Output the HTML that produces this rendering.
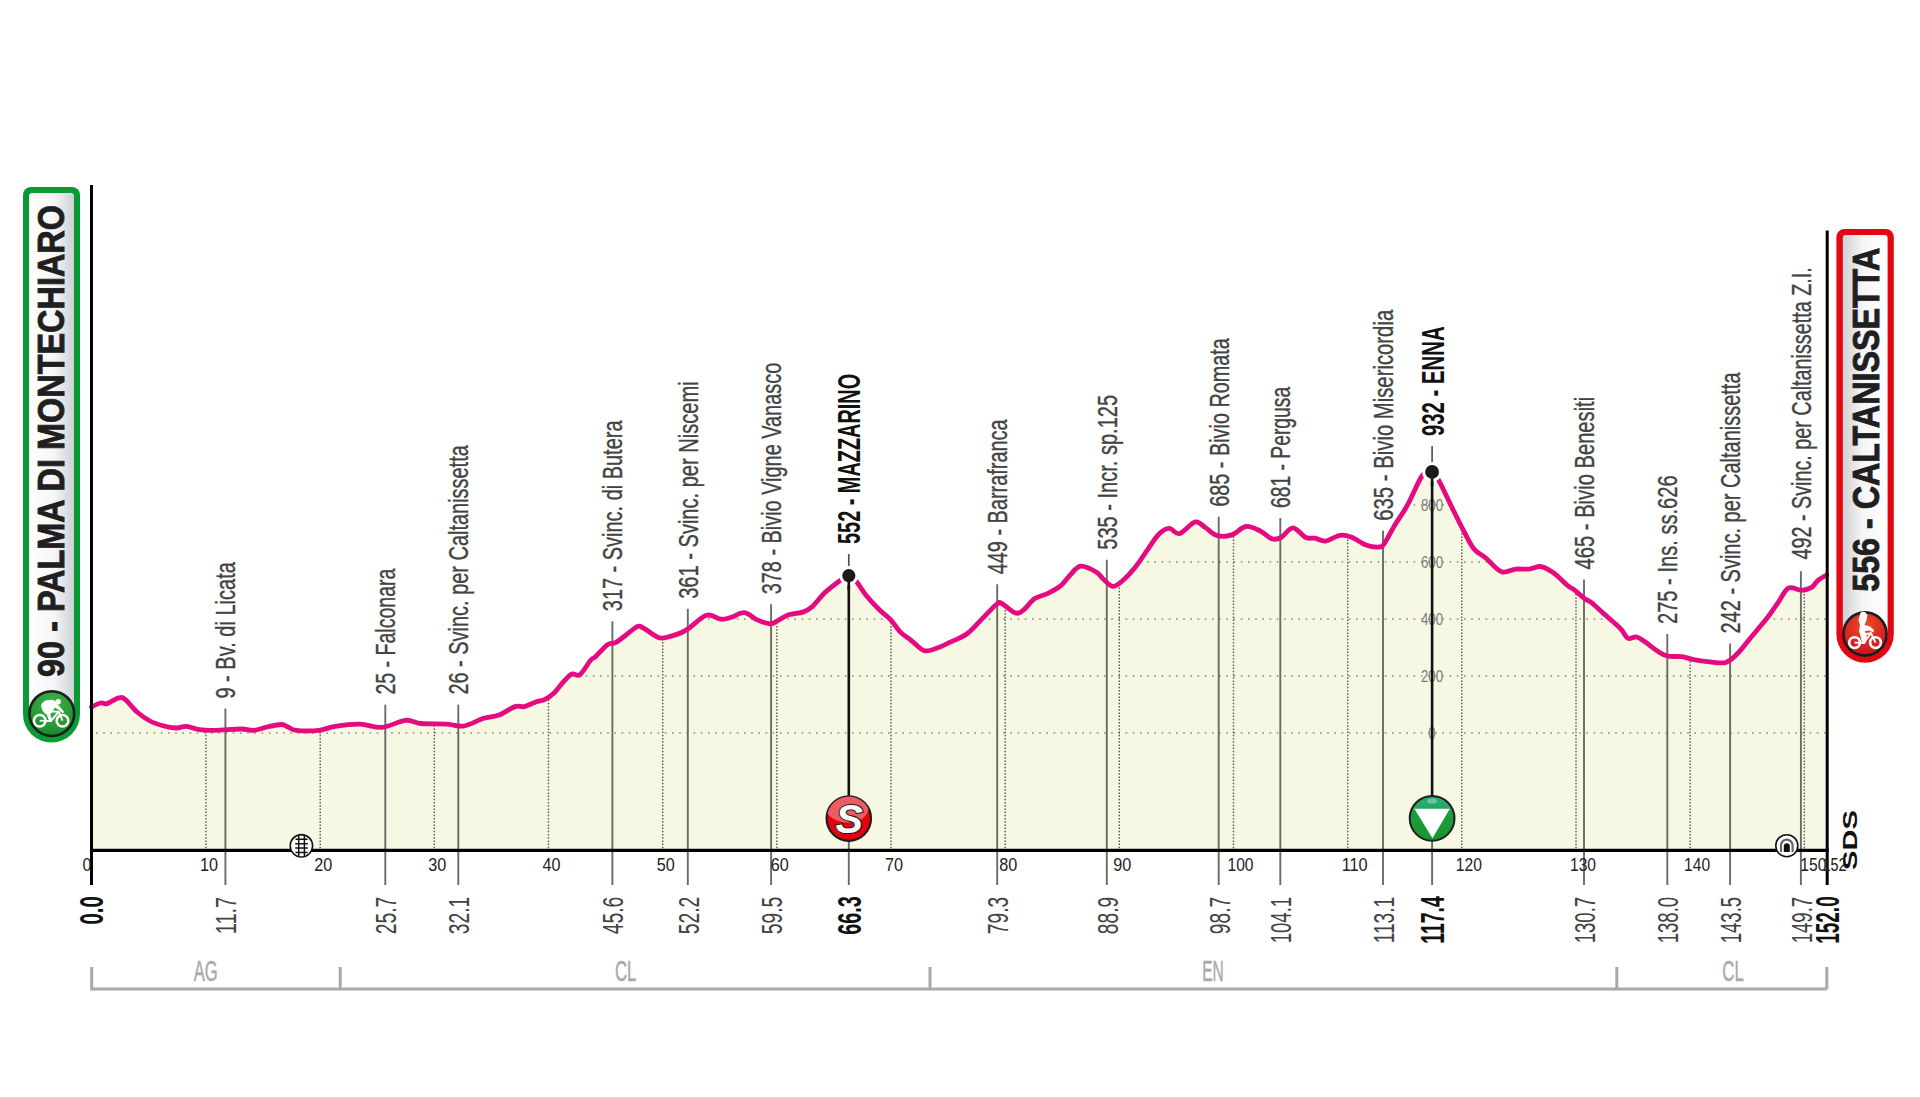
<!DOCTYPE html><html><head><meta charset="utf-8"><title>Stage profile</title><style>html,body{margin:0;padding:0;background:#fff;}svg{display:block;}text{font-family:"Liberation Sans",Arial,sans-serif;}</style></head><body>
<svg width="1920" height="1097" viewBox="0 0 1920 1097">
<defs>
<clipPath id="pc"><path d="M91.5,706.9 C93.0,706.2 98.0,703.5 100.6,703.0 C103.2,702.5 104.0,704.5 107.0,703.6 C110.0,702.7 115.8,698.4 118.9,697.8 C122.0,697.1 122.4,697.3 125.4,699.7 C128.4,702.1 132.9,708.5 137.0,712.0 C141.1,715.5 145.7,718.7 150.0,721.0 C154.3,723.3 158.7,724.6 163.0,725.8 C167.3,727.0 172.1,727.9 176.0,728.0 C179.9,728.1 182.7,726.1 186.6,726.4 C190.5,726.7 194.9,729.1 199.6,729.7 C204.3,730.4 208.1,730.4 215.0,730.3 C221.9,730.2 234.5,729.0 241.0,729.0 C247.5,729.0 249.7,730.6 254.0,730.3 C258.3,730.0 262.4,728.0 267.0,727.0 C271.6,726.0 278.1,724.5 281.6,724.5 C285.1,724.5 285.6,726.0 288.0,727.0 C290.4,728.0 290.8,729.8 296.0,730.3 C301.2,730.8 312.5,730.9 319.0,730.3 C325.5,729.6 328.2,727.4 335.0,726.4 C341.8,725.4 352.2,724.0 360.0,724.2 C367.8,724.4 374.4,728.0 382.0,727.4 C389.6,726.8 399.0,720.9 405.5,720.3 C412.0,719.6 414.1,722.9 421.0,723.5 C427.9,724.1 439.8,723.8 447.0,724.2 C454.2,724.6 457.9,727.0 464.0,726.0 C470.1,725.0 477.8,720.1 483.6,718.3 C489.4,716.5 493.8,717.0 499.0,715.0 C504.2,713.0 510.8,708.0 515.0,706.6 C519.2,705.2 520.5,707.4 524.0,706.6 C527.5,705.8 532.2,703.2 535.7,702.0 C539.2,700.8 542.0,700.9 545.0,699.4 C548.0,697.9 550.8,696.0 554.0,693.0 C557.2,690.0 561.0,684.4 564.0,681.2 C567.0,678.0 569.3,675.1 572.0,674.0 C574.7,672.9 576.9,677.0 580.0,674.7 C583.1,672.4 588.0,663.3 590.6,660.3 C593.2,657.2 593.0,659.0 595.8,656.4 C598.6,653.8 604.3,646.9 607.6,644.6 C610.9,642.3 612.2,644.4 615.4,642.7 C618.6,641.0 623.3,636.9 627.0,634.2 C630.7,631.5 634.7,627.4 637.5,626.4 C640.3,625.4 640.5,626.5 644.0,628.4 C647.5,630.2 654.2,636.1 658.3,637.5 C662.4,638.9 664.2,638.0 668.8,636.8 C673.3,635.6 679.4,633.9 685.7,630.3 C692.0,626.7 700.6,617.1 706.5,615.3 C712.4,613.4 716.7,618.9 720.8,619.2 C724.9,619.5 727.3,618.4 731.2,617.3 C735.2,616.2 740.0,612.3 744.3,612.7 C748.6,613.1 753.0,618.0 757.3,619.9 C761.6,621.8 767.0,623.6 770.3,623.8 C773.5,624.0 773.8,622.7 776.8,621.2 C779.8,619.7 784.1,616.2 788.5,614.7 C792.9,613.2 799.0,613.4 802.9,612.1 C806.8,610.8 808.3,610.1 812.0,606.9 C815.7,603.6 820.4,596.9 825.0,592.6 C829.6,588.3 835.6,583.8 839.5,581.0 C843.4,578.2 845.8,575.7 848.6,575.8 C851.4,575.9 853.7,578.6 856.5,581.7 C859.3,584.9 861.9,590.2 865.6,594.7 C869.3,599.2 874.5,604.9 878.6,609.0 C882.7,613.1 886.6,615.5 890.3,619.4 C894.0,623.3 897.2,628.9 900.7,632.4 C904.2,635.9 907.2,637.2 911.1,640.3 C915.0,643.3 919.9,649.4 924.2,650.7 C928.6,652.0 932.9,649.4 937.2,648.0 C941.5,646.6 945.2,644.6 950.2,642.2 C955.2,639.8 961.7,637.8 967.1,633.8 C972.5,629.7 977.8,623.1 982.8,618.1 C987.8,613.1 993.9,606.2 997.1,603.8 C1000.4,601.4 999.3,602.3 1002.3,603.8 C1005.3,605.3 1011.8,611.8 1015.3,612.9 C1018.8,614.0 1019.9,612.7 1023.1,610.3 C1026.3,607.9 1030.7,601.4 1034.8,598.6 C1038.9,595.8 1043.6,595.6 1047.9,593.4 C1052.2,591.2 1057.2,588.6 1060.9,585.6 C1064.6,582.6 1066.7,578.4 1070.0,575.2 C1073.3,572.0 1076.2,566.7 1080.6,566.2 C1085.0,565.7 1092.3,569.7 1096.2,572.0 C1100.2,574.3 1101.2,577.4 1104.0,579.8 C1106.8,582.2 1109.9,586.4 1113.2,586.4 C1116.5,586.4 1119.7,583.3 1123.6,579.8 C1127.5,576.3 1132.5,570.7 1136.6,565.5 C1140.7,560.3 1144.6,553.8 1148.3,548.6 C1152.0,543.4 1155.3,537.7 1158.8,534.3 C1162.2,530.9 1165.7,528.5 1169.2,528.4 C1172.7,528.3 1175.3,534.7 1179.6,533.6 C1183.9,532.5 1190.9,522.9 1195.2,521.9 C1199.5,520.9 1201.9,525.5 1205.6,527.8 C1209.3,530.1 1212.9,534.4 1217.3,535.6 C1221.7,536.8 1226.9,536.4 1231.7,534.9 C1236.5,533.4 1241.2,527.1 1246.0,526.5 C1250.8,525.9 1256.0,529.0 1260.3,531.0 C1264.6,533.0 1268.5,537.7 1272.0,538.8 C1275.5,539.9 1277.6,539.3 1281.1,537.5 C1284.6,535.7 1288.8,527.8 1292.9,527.8 C1297.0,527.8 1302.2,535.8 1305.9,537.5 C1309.6,539.2 1311.7,537.6 1315.0,538.2 C1318.3,538.8 1321.4,541.6 1325.6,541.1 C1329.8,540.6 1335.7,535.9 1340.0,535.3 C1344.3,534.6 1347.4,535.6 1351.7,537.2 C1356.0,538.8 1361.5,543.4 1366.0,545.0 C1370.5,546.6 1376.0,547.2 1379.0,547.0 C1382.0,546.8 1381.6,547.3 1384.2,543.8 C1386.8,540.2 1390.7,532.0 1394.6,525.5 C1398.5,519.0 1403.1,513.0 1407.7,504.7 C1412.3,496.4 1418.0,481.5 1422.0,476.0 C1426.0,470.5 1429.2,471.1 1432.0,471.9 C1434.8,472.7 1435.8,475.1 1438.9,480.6 C1442.0,486.1 1446.5,496.3 1450.6,504.7 C1454.7,513.0 1459.7,523.3 1463.6,530.7 C1467.5,538.1 1470.3,544.5 1474.0,549.0 C1477.7,553.5 1481.2,554.2 1485.8,558.0 C1490.4,561.8 1496.4,569.9 1501.4,571.7 C1506.4,573.6 1511.1,569.5 1515.7,569.1 C1520.3,568.7 1524.6,569.5 1528.8,569.1 C1532.9,568.7 1536.8,566.2 1540.5,566.5 C1544.2,566.8 1548.0,569.4 1550.9,571.1 C1553.8,572.8 1555.1,574.0 1558.0,576.5 C1560.9,579.0 1565.4,583.7 1568.1,585.9 C1570.8,588.1 1571.3,587.5 1574.0,589.6 C1576.7,591.7 1581.3,596.1 1584.2,598.3 C1587.1,600.5 1588.1,600.0 1591.5,602.7 C1594.9,605.4 1600.5,610.8 1604.6,614.4 C1608.7,618.0 1613.3,621.9 1616.2,624.6 C1619.2,627.3 1620.0,628.1 1622.0,630.4 C1624.0,632.7 1625.5,637.3 1628.0,638.4 C1630.5,639.5 1633.8,636.4 1636.7,637.0 C1639.6,637.6 1642.0,639.8 1645.4,642.1 C1648.8,644.4 1653.3,648.5 1657.0,650.8 C1660.7,653.1 1663.1,655.0 1667.3,656.0 C1671.5,657.0 1677.5,656.1 1681.9,656.7 C1686.3,657.3 1688.9,658.8 1693.5,659.6 C1698.1,660.5 1704.2,661.3 1709.6,661.8 C1714.9,662.3 1721.0,663.8 1725.6,662.5 C1730.2,661.2 1732.9,658.1 1737.3,653.8 C1741.7,649.4 1747.0,642.1 1751.9,636.2 C1756.8,630.4 1762.1,624.3 1766.5,618.8 C1770.9,613.2 1774.5,607.8 1778.1,602.7 C1781.7,597.6 1784.4,590.2 1788.3,588.1 C1792.2,586.0 1797.6,590.4 1801.5,590.3 C1805.4,590.2 1809.0,589.0 1811.7,587.4 C1814.4,585.8 1815.0,582.9 1817.5,580.8 C1820.0,578.7 1825.0,576.0 1826.5,575.0 L1826.5,850 L91.5,850 Z"/></clipPath>
<linearGradient id="gbox" x1="0" y1="0" x2="1" y2="0"><stop offset="0" stop-color="#ffffff"/><stop offset="0.55" stop-color="#f6f6f7"/><stop offset="1" stop-color="#cfd0d4"/></linearGradient>
<linearGradient id="rbox" x1="0" y1="0" x2="1" y2="0"><stop offset="0" stop-color="#cfd0d4"/><stop offset="0.45" stop-color="#f6f6f7"/><stop offset="1" stop-color="#ffffff"/></linearGradient>
<radialGradient id="ggreen" cx="0.5" cy="0.3" r="0.7"><stop offset="0" stop-color="#3fb54a"/><stop offset="1" stop-color="#1a8a2c"/></radialGradient>
<radialGradient id="gred" cx="0.5" cy="0.3" r="0.7"><stop offset="0" stop-color="#f0502a"/><stop offset="1" stop-color="#c8101e"/></radialGradient>
<linearGradient id="sred" x1="0" y1="0" x2="0" y2="1"><stop offset="0" stop-color="#ee5a62"/><stop offset="0.45" stop-color="#e2141e"/><stop offset="1" stop-color="#d80c16"/></linearGradient>
<linearGradient id="gpm" x1="0" y1="0" x2="0" y2="1"><stop offset="0" stop-color="#2fae74"/><stop offset="0.3" stop-color="#24a563"/><stop offset="0.32" stop-color="#1c9e3a"/><stop offset="1" stop-color="#169632"/></linearGradient>
</defs>
<path d="M91.5,706.9 C93.0,706.2 98.0,703.5 100.6,703.0 C103.2,702.5 104.0,704.5 107.0,703.6 C110.0,702.7 115.8,698.4 118.9,697.8 C122.0,697.1 122.4,697.3 125.4,699.7 C128.4,702.1 132.9,708.5 137.0,712.0 C141.1,715.5 145.7,718.7 150.0,721.0 C154.3,723.3 158.7,724.6 163.0,725.8 C167.3,727.0 172.1,727.9 176.0,728.0 C179.9,728.1 182.7,726.1 186.6,726.4 C190.5,726.7 194.9,729.1 199.6,729.7 C204.3,730.4 208.1,730.4 215.0,730.3 C221.9,730.2 234.5,729.0 241.0,729.0 C247.5,729.0 249.7,730.6 254.0,730.3 C258.3,730.0 262.4,728.0 267.0,727.0 C271.6,726.0 278.1,724.5 281.6,724.5 C285.1,724.5 285.6,726.0 288.0,727.0 C290.4,728.0 290.8,729.8 296.0,730.3 C301.2,730.8 312.5,730.9 319.0,730.3 C325.5,729.6 328.2,727.4 335.0,726.4 C341.8,725.4 352.2,724.0 360.0,724.2 C367.8,724.4 374.4,728.0 382.0,727.4 C389.6,726.8 399.0,720.9 405.5,720.3 C412.0,719.6 414.1,722.9 421.0,723.5 C427.9,724.1 439.8,723.8 447.0,724.2 C454.2,724.6 457.9,727.0 464.0,726.0 C470.1,725.0 477.8,720.1 483.6,718.3 C489.4,716.5 493.8,717.0 499.0,715.0 C504.2,713.0 510.8,708.0 515.0,706.6 C519.2,705.2 520.5,707.4 524.0,706.6 C527.5,705.8 532.2,703.2 535.7,702.0 C539.2,700.8 542.0,700.9 545.0,699.4 C548.0,697.9 550.8,696.0 554.0,693.0 C557.2,690.0 561.0,684.4 564.0,681.2 C567.0,678.0 569.3,675.1 572.0,674.0 C574.7,672.9 576.9,677.0 580.0,674.7 C583.1,672.4 588.0,663.3 590.6,660.3 C593.2,657.2 593.0,659.0 595.8,656.4 C598.6,653.8 604.3,646.9 607.6,644.6 C610.9,642.3 612.2,644.4 615.4,642.7 C618.6,641.0 623.3,636.9 627.0,634.2 C630.7,631.5 634.7,627.4 637.5,626.4 C640.3,625.4 640.5,626.5 644.0,628.4 C647.5,630.2 654.2,636.1 658.3,637.5 C662.4,638.9 664.2,638.0 668.8,636.8 C673.3,635.6 679.4,633.9 685.7,630.3 C692.0,626.7 700.6,617.1 706.5,615.3 C712.4,613.4 716.7,618.9 720.8,619.2 C724.9,619.5 727.3,618.4 731.2,617.3 C735.2,616.2 740.0,612.3 744.3,612.7 C748.6,613.1 753.0,618.0 757.3,619.9 C761.6,621.8 767.0,623.6 770.3,623.8 C773.5,624.0 773.8,622.7 776.8,621.2 C779.8,619.7 784.1,616.2 788.5,614.7 C792.9,613.2 799.0,613.4 802.9,612.1 C806.8,610.8 808.3,610.1 812.0,606.9 C815.7,603.6 820.4,596.9 825.0,592.6 C829.6,588.3 835.6,583.8 839.5,581.0 C843.4,578.2 845.8,575.7 848.6,575.8 C851.4,575.9 853.7,578.6 856.5,581.7 C859.3,584.9 861.9,590.2 865.6,594.7 C869.3,599.2 874.5,604.9 878.6,609.0 C882.7,613.1 886.6,615.5 890.3,619.4 C894.0,623.3 897.2,628.9 900.7,632.4 C904.2,635.9 907.2,637.2 911.1,640.3 C915.0,643.3 919.9,649.4 924.2,650.7 C928.6,652.0 932.9,649.4 937.2,648.0 C941.5,646.6 945.2,644.6 950.2,642.2 C955.2,639.8 961.7,637.8 967.1,633.8 C972.5,629.7 977.8,623.1 982.8,618.1 C987.8,613.1 993.9,606.2 997.1,603.8 C1000.4,601.4 999.3,602.3 1002.3,603.8 C1005.3,605.3 1011.8,611.8 1015.3,612.9 C1018.8,614.0 1019.9,612.7 1023.1,610.3 C1026.3,607.9 1030.7,601.4 1034.8,598.6 C1038.9,595.8 1043.6,595.6 1047.9,593.4 C1052.2,591.2 1057.2,588.6 1060.9,585.6 C1064.6,582.6 1066.7,578.4 1070.0,575.2 C1073.3,572.0 1076.2,566.7 1080.6,566.2 C1085.0,565.7 1092.3,569.7 1096.2,572.0 C1100.2,574.3 1101.2,577.4 1104.0,579.8 C1106.8,582.2 1109.9,586.4 1113.2,586.4 C1116.5,586.4 1119.7,583.3 1123.6,579.8 C1127.5,576.3 1132.5,570.7 1136.6,565.5 C1140.7,560.3 1144.6,553.8 1148.3,548.6 C1152.0,543.4 1155.3,537.7 1158.8,534.3 C1162.2,530.9 1165.7,528.5 1169.2,528.4 C1172.7,528.3 1175.3,534.7 1179.6,533.6 C1183.9,532.5 1190.9,522.9 1195.2,521.9 C1199.5,520.9 1201.9,525.5 1205.6,527.8 C1209.3,530.1 1212.9,534.4 1217.3,535.6 C1221.7,536.8 1226.9,536.4 1231.7,534.9 C1236.5,533.4 1241.2,527.1 1246.0,526.5 C1250.8,525.9 1256.0,529.0 1260.3,531.0 C1264.6,533.0 1268.5,537.7 1272.0,538.8 C1275.5,539.9 1277.6,539.3 1281.1,537.5 C1284.6,535.7 1288.8,527.8 1292.9,527.8 C1297.0,527.8 1302.2,535.8 1305.9,537.5 C1309.6,539.2 1311.7,537.6 1315.0,538.2 C1318.3,538.8 1321.4,541.6 1325.6,541.1 C1329.8,540.6 1335.7,535.9 1340.0,535.3 C1344.3,534.6 1347.4,535.6 1351.7,537.2 C1356.0,538.8 1361.5,543.4 1366.0,545.0 C1370.5,546.6 1376.0,547.2 1379.0,547.0 C1382.0,546.8 1381.6,547.3 1384.2,543.8 C1386.8,540.2 1390.7,532.0 1394.6,525.5 C1398.5,519.0 1403.1,513.0 1407.7,504.7 C1412.3,496.4 1418.0,481.5 1422.0,476.0 C1426.0,470.5 1429.2,471.1 1432.0,471.9 C1434.8,472.7 1435.8,475.1 1438.9,480.6 C1442.0,486.1 1446.5,496.3 1450.6,504.7 C1454.7,513.0 1459.7,523.3 1463.6,530.7 C1467.5,538.1 1470.3,544.5 1474.0,549.0 C1477.7,553.5 1481.2,554.2 1485.8,558.0 C1490.4,561.8 1496.4,569.9 1501.4,571.7 C1506.4,573.6 1511.1,569.5 1515.7,569.1 C1520.3,568.7 1524.6,569.5 1528.8,569.1 C1532.9,568.7 1536.8,566.2 1540.5,566.5 C1544.2,566.8 1548.0,569.4 1550.9,571.1 C1553.8,572.8 1555.1,574.0 1558.0,576.5 C1560.9,579.0 1565.4,583.7 1568.1,585.9 C1570.8,588.1 1571.3,587.5 1574.0,589.6 C1576.7,591.7 1581.3,596.1 1584.2,598.3 C1587.1,600.5 1588.1,600.0 1591.5,602.7 C1594.9,605.4 1600.5,610.8 1604.6,614.4 C1608.7,618.0 1613.3,621.9 1616.2,624.6 C1619.2,627.3 1620.0,628.1 1622.0,630.4 C1624.0,632.7 1625.5,637.3 1628.0,638.4 C1630.5,639.5 1633.8,636.4 1636.7,637.0 C1639.6,637.6 1642.0,639.8 1645.4,642.1 C1648.8,644.4 1653.3,648.5 1657.0,650.8 C1660.7,653.1 1663.1,655.0 1667.3,656.0 C1671.5,657.0 1677.5,656.1 1681.9,656.7 C1686.3,657.3 1688.9,658.8 1693.5,659.6 C1698.1,660.5 1704.2,661.3 1709.6,661.8 C1714.9,662.3 1721.0,663.8 1725.6,662.5 C1730.2,661.2 1732.9,658.1 1737.3,653.8 C1741.7,649.4 1747.0,642.1 1751.9,636.2 C1756.8,630.4 1762.1,624.3 1766.5,618.8 C1770.9,613.2 1774.5,607.8 1778.1,602.7 C1781.7,597.6 1784.4,590.2 1788.3,588.1 C1792.2,586.0 1797.6,590.4 1801.5,590.3 C1805.4,590.2 1809.0,589.0 1811.7,587.4 C1814.4,585.8 1815.0,582.9 1817.5,580.8 C1820.0,578.7 1825.0,576.0 1826.5,575.0 L1826.5,850 L91.5,850 Z" fill="#f7f8e4"/>
<g clip-path="url(#pc)">
<line x1="96" y1="733.0" x2="1826" y2="733.0" stroke="#a5a59a" stroke-width="2" stroke-dasharray="1.6 5.6"/>
<line x1="96" y1="676.0" x2="1826" y2="676.0" stroke="#a5a59a" stroke-width="2" stroke-dasharray="1.6 5.6"/>
<line x1="96" y1="619.0" x2="1826" y2="619.0" stroke="#a5a59a" stroke-width="2" stroke-dasharray="1.6 5.6"/>
<line x1="96" y1="562.0" x2="1826" y2="562.0" stroke="#a5a59a" stroke-width="2" stroke-dasharray="1.6 5.6"/>
<line x1="96" y1="505.0" x2="1826" y2="505.0" stroke="#a5a59a" stroke-width="2" stroke-dasharray="1.6 5.6"/>
<line x1="206.0" y1="450" x2="206.0" y2="849" stroke="#55554f" stroke-width="1.4" stroke-dasharray="1.5 1.7"/>
<line x1="320.2" y1="450" x2="320.2" y2="849" stroke="#55554f" stroke-width="1.4" stroke-dasharray="1.5 1.7"/>
<line x1="434.3" y1="450" x2="434.3" y2="849" stroke="#55554f" stroke-width="1.4" stroke-dasharray="1.5 1.7"/>
<line x1="548.5" y1="450" x2="548.5" y2="849" stroke="#55554f" stroke-width="1.4" stroke-dasharray="1.5 1.7"/>
<line x1="662.7" y1="450" x2="662.7" y2="849" stroke="#55554f" stroke-width="1.4" stroke-dasharray="1.5 1.7"/>
<line x1="776.8" y1="450" x2="776.8" y2="849" stroke="#55554f" stroke-width="1.4" stroke-dasharray="1.5 1.7"/>
<line x1="891.0" y1="450" x2="891.0" y2="849" stroke="#55554f" stroke-width="1.4" stroke-dasharray="1.5 1.7"/>
<line x1="1005.2" y1="450" x2="1005.2" y2="849" stroke="#55554f" stroke-width="1.4" stroke-dasharray="1.5 1.7"/>
<line x1="1119.3" y1="450" x2="1119.3" y2="849" stroke="#55554f" stroke-width="1.4" stroke-dasharray="1.5 1.7"/>
<line x1="1233.5" y1="450" x2="1233.5" y2="849" stroke="#55554f" stroke-width="1.4" stroke-dasharray="1.5 1.7"/>
<line x1="1347.7" y1="450" x2="1347.7" y2="849" stroke="#55554f" stroke-width="1.4" stroke-dasharray="1.5 1.7"/>
<line x1="1461.8" y1="450" x2="1461.8" y2="849" stroke="#55554f" stroke-width="1.4" stroke-dasharray="1.5 1.7"/>
<line x1="1576.0" y1="450" x2="1576.0" y2="849" stroke="#55554f" stroke-width="1.4" stroke-dasharray="1.5 1.7"/>
<line x1="1690.1" y1="450" x2="1690.1" y2="849" stroke="#55554f" stroke-width="1.4" stroke-dasharray="1.5 1.7"/>
<line x1="1804.3" y1="450" x2="1804.3" y2="849" stroke="#55554f" stroke-width="1.4" stroke-dasharray="1.5 1.7"/>
</g>
<text x="1432" y="739.0" font-size="17" fill="#7b7b7b" text-anchor="middle" transform="translate(1432 0) scale(0.78 1) translate(-1432 0)">0</text>
<text x="1432" y="682.0" font-size="17" fill="#7b7b7b" text-anchor="middle" transform="translate(1432 0) scale(0.78 1) translate(-1432 0)">200</text>
<text x="1432" y="625.0" font-size="17" fill="#7b7b7b" text-anchor="middle" transform="translate(1432 0) scale(0.78 1) translate(-1432 0)">400</text>
<text x="1432" y="568.0" font-size="17" fill="#7b7b7b" text-anchor="middle" transform="translate(1432 0) scale(0.78 1) translate(-1432 0)">600</text>
<text x="1432" y="511.0" font-size="17" fill="#7b7b7b" text-anchor="middle" transform="translate(1432 0) scale(0.78 1) translate(-1432 0)">800</text>
<line x1="225.4" y1="708.6" x2="225.4" y2="885" stroke="#6a6a66" stroke-width="1.9"/>
<line x1="385.3" y1="704.6" x2="385.3" y2="885" stroke="#6a6a66" stroke-width="1.9"/>
<line x1="458.3" y1="704.6" x2="458.3" y2="885" stroke="#6a6a66" stroke-width="1.9"/>
<line x1="612.4" y1="621.2" x2="612.4" y2="885" stroke="#6a6a66" stroke-width="1.9"/>
<line x1="687.8" y1="608.8" x2="687.8" y2="885" stroke="#6a6a66" stroke-width="1.9"/>
<line x1="771.1" y1="604.3" x2="771.1" y2="885" stroke="#6a6a66" stroke-width="1.9"/>
<line x1="997.2" y1="584.3" x2="997.2" y2="885" stroke="#6a6a66" stroke-width="1.9"/>
<line x1="1106.8" y1="559.7" x2="1106.8" y2="885" stroke="#6a6a66" stroke-width="1.9"/>
<line x1="1218.7" y1="516.7" x2="1218.7" y2="885" stroke="#6a6a66" stroke-width="1.9"/>
<line x1="1280.3" y1="518.0" x2="1280.3" y2="885" stroke="#6a6a66" stroke-width="1.9"/>
<line x1="1383.0" y1="530.7" x2="1383.0" y2="885" stroke="#6a6a66" stroke-width="1.9"/>
<line x1="1584.0" y1="579.4" x2="1584.0" y2="885" stroke="#6a6a66" stroke-width="1.9"/>
<line x1="1667.3" y1="634.0" x2="1667.3" y2="885" stroke="#6a6a66" stroke-width="1.9"/>
<line x1="1730.1" y1="643.5" x2="1730.1" y2="885" stroke="#6a6a66" stroke-width="1.9"/>
<line x1="1800.9" y1="571.3" x2="1800.9" y2="885" stroke="#6a6a66" stroke-width="1.9"/>
<line x1="848.8" y1="554.0" x2="848.8" y2="566.3" stroke="#555" stroke-width="1.7"/>
<line x1="848.8" y1="575.8" x2="848.8" y2="805" stroke="#111" stroke-width="2.6"/>
<line x1="848.8" y1="830" x2="848.8" y2="885" stroke="#6a6a66" stroke-width="1.9"/>
<line x1="1432.1" y1="446.0" x2="1432.1" y2="462.4" stroke="#555" stroke-width="1.7"/>
<line x1="1432.1" y1="471.9" x2="1432.1" y2="805" stroke="#111" stroke-width="2.6"/>
<line x1="1432.1" y1="830" x2="1432.1" y2="885" stroke="#6a6a66" stroke-width="1.9"/>
<path d="M91.5,706.9 C93.0,706.2 98.0,703.5 100.6,703.0 C103.2,702.5 104.0,704.5 107.0,703.6 C110.0,702.7 115.8,698.4 118.9,697.8 C122.0,697.1 122.4,697.3 125.4,699.7 C128.4,702.1 132.9,708.5 137.0,712.0 C141.1,715.5 145.7,718.7 150.0,721.0 C154.3,723.3 158.7,724.6 163.0,725.8 C167.3,727.0 172.1,727.9 176.0,728.0 C179.9,728.1 182.7,726.1 186.6,726.4 C190.5,726.7 194.9,729.1 199.6,729.7 C204.3,730.4 208.1,730.4 215.0,730.3 C221.9,730.2 234.5,729.0 241.0,729.0 C247.5,729.0 249.7,730.6 254.0,730.3 C258.3,730.0 262.4,728.0 267.0,727.0 C271.6,726.0 278.1,724.5 281.6,724.5 C285.1,724.5 285.6,726.0 288.0,727.0 C290.4,728.0 290.8,729.8 296.0,730.3 C301.2,730.8 312.5,730.9 319.0,730.3 C325.5,729.6 328.2,727.4 335.0,726.4 C341.8,725.4 352.2,724.0 360.0,724.2 C367.8,724.4 374.4,728.0 382.0,727.4 C389.6,726.8 399.0,720.9 405.5,720.3 C412.0,719.6 414.1,722.9 421.0,723.5 C427.9,724.1 439.8,723.8 447.0,724.2 C454.2,724.6 457.9,727.0 464.0,726.0 C470.1,725.0 477.8,720.1 483.6,718.3 C489.4,716.5 493.8,717.0 499.0,715.0 C504.2,713.0 510.8,708.0 515.0,706.6 C519.2,705.2 520.5,707.4 524.0,706.6 C527.5,705.8 532.2,703.2 535.7,702.0 C539.2,700.8 542.0,700.9 545.0,699.4 C548.0,697.9 550.8,696.0 554.0,693.0 C557.2,690.0 561.0,684.4 564.0,681.2 C567.0,678.0 569.3,675.1 572.0,674.0 C574.7,672.9 576.9,677.0 580.0,674.7 C583.1,672.4 588.0,663.3 590.6,660.3 C593.2,657.2 593.0,659.0 595.8,656.4 C598.6,653.8 604.3,646.9 607.6,644.6 C610.9,642.3 612.2,644.4 615.4,642.7 C618.6,641.0 623.3,636.9 627.0,634.2 C630.7,631.5 634.7,627.4 637.5,626.4 C640.3,625.4 640.5,626.5 644.0,628.4 C647.5,630.2 654.2,636.1 658.3,637.5 C662.4,638.9 664.2,638.0 668.8,636.8 C673.3,635.6 679.4,633.9 685.7,630.3 C692.0,626.7 700.6,617.1 706.5,615.3 C712.4,613.4 716.7,618.9 720.8,619.2 C724.9,619.5 727.3,618.4 731.2,617.3 C735.2,616.2 740.0,612.3 744.3,612.7 C748.6,613.1 753.0,618.0 757.3,619.9 C761.6,621.8 767.0,623.6 770.3,623.8 C773.5,624.0 773.8,622.7 776.8,621.2 C779.8,619.7 784.1,616.2 788.5,614.7 C792.9,613.2 799.0,613.4 802.9,612.1 C806.8,610.8 808.3,610.1 812.0,606.9 C815.7,603.6 820.4,596.9 825.0,592.6 C829.6,588.3 835.6,583.8 839.5,581.0 C843.4,578.2 845.8,575.7 848.6,575.8 C851.4,575.9 853.7,578.6 856.5,581.7 C859.3,584.9 861.9,590.2 865.6,594.7 C869.3,599.2 874.5,604.9 878.6,609.0 C882.7,613.1 886.6,615.5 890.3,619.4 C894.0,623.3 897.2,628.9 900.7,632.4 C904.2,635.9 907.2,637.2 911.1,640.3 C915.0,643.3 919.9,649.4 924.2,650.7 C928.6,652.0 932.9,649.4 937.2,648.0 C941.5,646.6 945.2,644.6 950.2,642.2 C955.2,639.8 961.7,637.8 967.1,633.8 C972.5,629.7 977.8,623.1 982.8,618.1 C987.8,613.1 993.9,606.2 997.1,603.8 C1000.4,601.4 999.3,602.3 1002.3,603.8 C1005.3,605.3 1011.8,611.8 1015.3,612.9 C1018.8,614.0 1019.9,612.7 1023.1,610.3 C1026.3,607.9 1030.7,601.4 1034.8,598.6 C1038.9,595.8 1043.6,595.6 1047.9,593.4 C1052.2,591.2 1057.2,588.6 1060.9,585.6 C1064.6,582.6 1066.7,578.4 1070.0,575.2 C1073.3,572.0 1076.2,566.7 1080.6,566.2 C1085.0,565.7 1092.3,569.7 1096.2,572.0 C1100.2,574.3 1101.2,577.4 1104.0,579.8 C1106.8,582.2 1109.9,586.4 1113.2,586.4 C1116.5,586.4 1119.7,583.3 1123.6,579.8 C1127.5,576.3 1132.5,570.7 1136.6,565.5 C1140.7,560.3 1144.6,553.8 1148.3,548.6 C1152.0,543.4 1155.3,537.7 1158.8,534.3 C1162.2,530.9 1165.7,528.5 1169.2,528.4 C1172.7,528.3 1175.3,534.7 1179.6,533.6 C1183.9,532.5 1190.9,522.9 1195.2,521.9 C1199.5,520.9 1201.9,525.5 1205.6,527.8 C1209.3,530.1 1212.9,534.4 1217.3,535.6 C1221.7,536.8 1226.9,536.4 1231.7,534.9 C1236.5,533.4 1241.2,527.1 1246.0,526.5 C1250.8,525.9 1256.0,529.0 1260.3,531.0 C1264.6,533.0 1268.5,537.7 1272.0,538.8 C1275.5,539.9 1277.6,539.3 1281.1,537.5 C1284.6,535.7 1288.8,527.8 1292.9,527.8 C1297.0,527.8 1302.2,535.8 1305.9,537.5 C1309.6,539.2 1311.7,537.6 1315.0,538.2 C1318.3,538.8 1321.4,541.6 1325.6,541.1 C1329.8,540.6 1335.7,535.9 1340.0,535.3 C1344.3,534.6 1347.4,535.6 1351.7,537.2 C1356.0,538.8 1361.5,543.4 1366.0,545.0 C1370.5,546.6 1376.0,547.2 1379.0,547.0 C1382.0,546.8 1381.6,547.3 1384.2,543.8 C1386.8,540.2 1390.7,532.0 1394.6,525.5 C1398.5,519.0 1403.1,513.0 1407.7,504.7 C1412.3,496.4 1418.0,481.5 1422.0,476.0 C1426.0,470.5 1429.2,471.1 1432.0,471.9 C1434.8,472.7 1435.8,475.1 1438.9,480.6 C1442.0,486.1 1446.5,496.3 1450.6,504.7 C1454.7,513.0 1459.7,523.3 1463.6,530.7 C1467.5,538.1 1470.3,544.5 1474.0,549.0 C1477.7,553.5 1481.2,554.2 1485.8,558.0 C1490.4,561.8 1496.4,569.9 1501.4,571.7 C1506.4,573.6 1511.1,569.5 1515.7,569.1 C1520.3,568.7 1524.6,569.5 1528.8,569.1 C1532.9,568.7 1536.8,566.2 1540.5,566.5 C1544.2,566.8 1548.0,569.4 1550.9,571.1 C1553.8,572.8 1555.1,574.0 1558.0,576.5 C1560.9,579.0 1565.4,583.7 1568.1,585.9 C1570.8,588.1 1571.3,587.5 1574.0,589.6 C1576.7,591.7 1581.3,596.1 1584.2,598.3 C1587.1,600.5 1588.1,600.0 1591.5,602.7 C1594.9,605.4 1600.5,610.8 1604.6,614.4 C1608.7,618.0 1613.3,621.9 1616.2,624.6 C1619.2,627.3 1620.0,628.1 1622.0,630.4 C1624.0,632.7 1625.5,637.3 1628.0,638.4 C1630.5,639.5 1633.8,636.4 1636.7,637.0 C1639.6,637.6 1642.0,639.8 1645.4,642.1 C1648.8,644.4 1653.3,648.5 1657.0,650.8 C1660.7,653.1 1663.1,655.0 1667.3,656.0 C1671.5,657.0 1677.5,656.1 1681.9,656.7 C1686.3,657.3 1688.9,658.8 1693.5,659.6 C1698.1,660.5 1704.2,661.3 1709.6,661.8 C1714.9,662.3 1721.0,663.8 1725.6,662.5 C1730.2,661.2 1732.9,658.1 1737.3,653.8 C1741.7,649.4 1747.0,642.1 1751.9,636.2 C1756.8,630.4 1762.1,624.3 1766.5,618.8 C1770.9,613.2 1774.5,607.8 1778.1,602.7 C1781.7,597.6 1784.4,590.2 1788.3,588.1 C1792.2,586.0 1797.6,590.4 1801.5,590.3 C1805.4,590.2 1809.0,589.0 1811.7,587.4 C1814.4,585.8 1815.0,582.9 1817.5,580.8 C1820.0,578.7 1825.0,576.0 1826.5,575.0" fill="none" stroke="#e60a80" stroke-width="4.8" stroke-linejoin="round" stroke-linecap="round"/>
<circle cx="848.8" cy="575.6" r="9.6" fill="#fff"/>
<line x1="848.8" y1="576" x2="848.8" y2="590" stroke="#111" stroke-width="2.6"/>
<circle cx="848.8" cy="575.6" r="6.6" fill="#1b1b1b"/>
<circle cx="1432.1" cy="471.9" r="10" fill="#fff"/>
<line x1="1432.1" y1="472" x2="1432.1" y2="486" stroke="#111" stroke-width="2.6"/>
<circle cx="1432.1" cy="471.9" r="6.9" fill="#1b1b1b"/>
<line x1="91.5" y1="185" x2="91.5" y2="885" stroke="#000" stroke-width="3"/>
<line x1="1827.2" y1="230.5" x2="1827.2" y2="885" stroke="#000" stroke-width="3"/>
<line x1="90" y1="850.3" x2="1828.7" y2="850.3" stroke="#000" stroke-width="3.2"/>
<text transform="translate(235.4 698.6) rotate(-90)" font-size="28" fill="#434343" stroke="#434343" stroke-width="0.35" textLength="136.5" lengthAdjust="spacingAndGlyphs">9 - Bv. di Licata</text>
<text transform="translate(395.3 694.6) rotate(-90)" font-size="28" fill="#434343" stroke="#434343" stroke-width="0.35" textLength="126.0" lengthAdjust="spacingAndGlyphs">25 - Falconara</text>
<text transform="translate(468.3 694.6) rotate(-90)" font-size="28" fill="#434343" stroke="#434343" stroke-width="0.35" textLength="249.4" lengthAdjust="spacingAndGlyphs">26 - Svinc. per Caltanissetta</text>
<text transform="translate(622.4 611.2) rotate(-90)" font-size="28" fill="#434343" stroke="#434343" stroke-width="0.35" textLength="190.7" lengthAdjust="spacingAndGlyphs">317 - Svinc. di Butera</text>
<text transform="translate(697.8 598.8) rotate(-90)" font-size="28" fill="#434343" stroke="#434343" stroke-width="0.35" textLength="217.4" lengthAdjust="spacingAndGlyphs">361 - Svinc. per Niscemi</text>
<text transform="translate(781.1 594.3) rotate(-90)" font-size="28" fill="#434343" stroke="#434343" stroke-width="0.35" textLength="231.5" lengthAdjust="spacingAndGlyphs">378 - Bivio Vigne Vanasco</text>
<text transform="translate(860.3 544.0) rotate(-90)" font-size="30.5" font-weight="bold" fill="#111" textLength="170.2" lengthAdjust="spacingAndGlyphs">552 - MAZZARINO</text>
<text transform="translate(1007.2 574.3) rotate(-90)" font-size="28" fill="#434343" stroke="#434343" stroke-width="0.35" textLength="154.9" lengthAdjust="spacingAndGlyphs">449 - Barrafranca</text>
<text transform="translate(1116.8 549.7) rotate(-90)" font-size="28" fill="#434343" stroke="#434343" stroke-width="0.35" textLength="154.8" lengthAdjust="spacingAndGlyphs">535 - Incr. sp.125</text>
<text transform="translate(1228.7 506.7) rotate(-90)" font-size="28" fill="#434343" stroke="#434343" stroke-width="0.35" textLength="168.5" lengthAdjust="spacingAndGlyphs">685 - Bivio Romata</text>
<text transform="translate(1290.3 508.0) rotate(-90)" font-size="28" fill="#434343" stroke="#434343" stroke-width="0.35" textLength="121.1" lengthAdjust="spacingAndGlyphs">681 - Pergusa</text>
<text transform="translate(1393.0 520.7) rotate(-90)" font-size="28" fill="#434343" stroke="#434343" stroke-width="0.35" textLength="210.9" lengthAdjust="spacingAndGlyphs">635 - Bivio Misericordia</text>
<text transform="translate(1443.6 436.0) rotate(-90)" font-size="30.5" font-weight="bold" fill="#111" textLength="109.6" lengthAdjust="spacingAndGlyphs">932 - ENNA</text>
<text transform="translate(1594.0 569.4) rotate(-90)" font-size="28" fill="#434343" stroke="#434343" stroke-width="0.35" textLength="172.6" lengthAdjust="spacingAndGlyphs">465 - Bivio Benesiti</text>
<text transform="translate(1677.3 624.0) rotate(-90)" font-size="28" fill="#434343" stroke="#434343" stroke-width="0.35" textLength="148.6" lengthAdjust="spacingAndGlyphs">275 - Ins. ss.626</text>
<text transform="translate(1740.1 633.5) rotate(-90)" font-size="28" fill="#434343" stroke="#434343" stroke-width="0.35" textLength="261.0" lengthAdjust="spacingAndGlyphs">242 - Svinc. per Caltanissetta</text>
<text transform="translate(1810.9 559.6) rotate(-90)" font-size="28" fill="#434343" stroke="#434343" stroke-width="0.35" textLength="292.3" lengthAdjust="spacingAndGlyphs">492 - Svinc. per Caltanissetta Z.I.</text>
<text transform="translate(103.1 896.3) rotate(-90)" font-size="32.5" font-weight="bold" fill="#111" text-anchor="end" textLength="28.3" lengthAdjust="spacingAndGlyphs">0.0</text>
<text transform="translate(236.4 896.8) rotate(-90)" font-size="30" fill="#434343" text-anchor="end" textLength="37.4" lengthAdjust="spacingAndGlyphs">11.7</text>
<text transform="translate(396.3 896.8) rotate(-90)" font-size="30" fill="#434343" text-anchor="end" textLength="37.4" lengthAdjust="spacingAndGlyphs">25.7</text>
<text transform="translate(469.3 896.8) rotate(-90)" font-size="30" fill="#434343" text-anchor="end" textLength="37.4" lengthAdjust="spacingAndGlyphs">32.1</text>
<text transform="translate(623.4 896.8) rotate(-90)" font-size="30" fill="#434343" text-anchor="end" textLength="37.4" lengthAdjust="spacingAndGlyphs">45.6</text>
<text transform="translate(698.8 896.8) rotate(-90)" font-size="30" fill="#434343" text-anchor="end" textLength="37.4" lengthAdjust="spacingAndGlyphs">52.2</text>
<text transform="translate(782.1 896.8) rotate(-90)" font-size="30" fill="#434343" text-anchor="end" textLength="37.4" lengthAdjust="spacingAndGlyphs">59.5</text>
<text transform="translate(860.6 896.3) rotate(-90)" font-size="32.5" font-weight="bold" fill="#111" text-anchor="end" textLength="38.4" lengthAdjust="spacingAndGlyphs">66.3</text>
<text transform="translate(1008.2 896.8) rotate(-90)" font-size="30" fill="#434343" text-anchor="end" textLength="37.4" lengthAdjust="spacingAndGlyphs">79.3</text>
<text transform="translate(1117.8 896.8) rotate(-90)" font-size="30" fill="#434343" text-anchor="end" textLength="37.4" lengthAdjust="spacingAndGlyphs">88.9</text>
<text transform="translate(1229.7 896.8) rotate(-90)" font-size="30" fill="#434343" text-anchor="end" textLength="37.4" lengthAdjust="spacingAndGlyphs">98.7</text>
<text transform="translate(1291.3 896.8) rotate(-90)" font-size="30" fill="#434343" text-anchor="end" textLength="46.5" lengthAdjust="spacingAndGlyphs">104.1</text>
<text transform="translate(1394.0 896.8) rotate(-90)" font-size="30" fill="#434343" text-anchor="end" textLength="46.5" lengthAdjust="spacingAndGlyphs">113.1</text>
<text transform="translate(1443.9 896.3) rotate(-90)" font-size="32.5" font-weight="bold" fill="#111" text-anchor="end" textLength="47.5" lengthAdjust="spacingAndGlyphs">117.4</text>
<text transform="translate(1595.0 896.8) rotate(-90)" font-size="30" fill="#434343" text-anchor="end" textLength="46.5" lengthAdjust="spacingAndGlyphs">130.7</text>
<text transform="translate(1678.3 896.8) rotate(-90)" font-size="30" fill="#434343" text-anchor="end" textLength="46.5" lengthAdjust="spacingAndGlyphs">138.0</text>
<text transform="translate(1741.1 896.8) rotate(-90)" font-size="30" fill="#434343" text-anchor="end" textLength="46.5" lengthAdjust="spacingAndGlyphs">143.5</text>
<text transform="translate(1811.9 896.8) rotate(-90)" font-size="30" fill="#434343" text-anchor="end" textLength="46.5" lengthAdjust="spacingAndGlyphs">149.7</text>
<text transform="translate(1838.9 896.3) rotate(-90)" font-size="32.5" font-weight="bold" fill="#111" text-anchor="end" textLength="47.5" lengthAdjust="spacingAndGlyphs">152.0</text>
<text x="82.4" y="871" font-size="19" fill="#222" textLength="8.8" lengthAdjust="spacingAndGlyphs">0</text>
<text x="200.0" y="871" font-size="19" fill="#222" textLength="18.0" lengthAdjust="spacingAndGlyphs">10</text>
<text x="314.2" y="871" font-size="19" fill="#222" textLength="18.0" lengthAdjust="spacingAndGlyphs">20</text>
<text x="428.3" y="871" font-size="19" fill="#222" textLength="18.0" lengthAdjust="spacingAndGlyphs">30</text>
<text x="542.5" y="871" font-size="19" fill="#222" textLength="18.0" lengthAdjust="spacingAndGlyphs">40</text>
<text x="656.7" y="871" font-size="19" fill="#222" textLength="18.0" lengthAdjust="spacingAndGlyphs">50</text>
<text x="770.8" y="871" font-size="19" fill="#222" textLength="18.0" lengthAdjust="spacingAndGlyphs">60</text>
<text x="885.0" y="871" font-size="19" fill="#222" textLength="18.0" lengthAdjust="spacingAndGlyphs">70</text>
<text x="999.2" y="871" font-size="19" fill="#222" textLength="18.0" lengthAdjust="spacingAndGlyphs">80</text>
<text x="1113.3" y="871" font-size="19" fill="#222" textLength="18.0" lengthAdjust="spacingAndGlyphs">90</text>
<text x="1227.5" y="871" font-size="19" fill="#222" textLength="26.0" lengthAdjust="spacingAndGlyphs">100</text>
<text x="1341.7" y="871" font-size="19" fill="#222" textLength="26.0" lengthAdjust="spacingAndGlyphs">110</text>
<text x="1455.8" y="871" font-size="19" fill="#222" textLength="26.0" lengthAdjust="spacingAndGlyphs">120</text>
<text x="1570.0" y="871" font-size="19" fill="#222" textLength="26.0" lengthAdjust="spacingAndGlyphs">130</text>
<text x="1684.1" y="871" font-size="19" fill="#222" textLength="26.0" lengthAdjust="spacingAndGlyphs">140</text>
<text x="1800.3" y="871" font-size="19" fill="#222" textLength="26.0" lengthAdjust="spacingAndGlyphs">150</text>
<text x="1822.5" y="871" font-size="19" fill="#222" textLength="24" lengthAdjust="spacingAndGlyphs">152</text>
<path d="M91.7,967 V989 H1826.8 M340.2,967 V989 M930,967 V989 M1616.8,967 V989 M1826.8,967 V989" fill="none" stroke="#a9a9ad" stroke-width="3"/>
<text x="205.8" y="980.5" font-size="30" fill="#a9a9ad" stroke="#a9a9ad" stroke-width="0.5" text-anchor="middle" textLength="24.0" lengthAdjust="spacingAndGlyphs">AG</text>
<text x="625.7" y="980.5" font-size="30" fill="#a9a9ad" stroke="#a9a9ad" stroke-width="0.5" text-anchor="middle" textLength="21.5" lengthAdjust="spacingAndGlyphs">CL</text>
<text x="1213.0" y="980.5" font-size="30" fill="#a9a9ad" stroke="#a9a9ad" stroke-width="0.5" text-anchor="middle" textLength="21.5" lengthAdjust="spacingAndGlyphs">EN</text>
<text x="1733.0" y="980.5" font-size="30" fill="#a9a9ad" stroke="#a9a9ad" stroke-width="0.5" text-anchor="middle" textLength="21.5" lengthAdjust="spacingAndGlyphs">CL</text>
<clipPath id="sclip"><circle cx="848.8" cy="818.6" r="22"/></clipPath>
<circle cx="848.8" cy="818.6" r="22.2" fill="#e8000e" stroke="#1e1e1e" stroke-width="2.2"/>
<g clip-path="url(#sclip)"><ellipse cx="845.8" cy="805" rx="23" ry="17.5" fill="#ef5b62" transform="rotate(12 845.8 805)"/></g>
<text x="849.3" y="832.5" font-size="41" font-weight="bold" font-style="italic" fill="#fff" stroke="#222" stroke-width="2.2" paint-order="stroke" text-anchor="middle">S</text>
<circle cx="1432.1" cy="818.3" r="22.4" fill="url(#gpm)" stroke="#1e1e1e" stroke-width="2"/>
<ellipse cx="1432.1" cy="801" rx="5" ry="2.5" fill="#7fcaa6" opacity="0.8"/>
<path d="M1414.4,808.8 L1449.8,808.8 L1432.5,838.3 Z" fill="#fff"/>
<circle cx="301.4" cy="845.8" r="11.2" fill="#fff" stroke="#111" stroke-width="1.6"/>
<path d="M298.7,836 V856 M304.4,836 V856 M295.5,839.2 H307.6 M295.2,843.7 H307.8 M295.2,848 H307.8 M295.5,852.5 H307.6" stroke="#111" stroke-width="1.5"/>
<circle cx="1786.8" cy="845.7" r="11" fill="#fff" stroke="#111" stroke-width="1.6"/>
<path d="M1781,852 V845.5 A5.8,5.8 0 0 1 1792.6,845.5 V852" fill="none" stroke="#666" stroke-width="2.2"/>
<path d="M1783.8,852 V846.3 A3,3 0 0 1 1789.8,846.3 V852 Z" fill="#111"/>
<text transform="translate(1857.4 870) rotate(-90)" font-size="21" font-weight="bold" fill="#111" textLength="60" lengthAdjust="spacingAndGlyphs">SDS</text>
<path d="M31,187 H72 A8,8 0 0 1 80,195 V714 A28.5,28.5 0 0 1 23,714 V195 A8,8 0 0 1 31,187 Z" fill="#0a9a35"/>
<path d="M31.5,193 H70 A3,3 0 0 1 74,196 V714 A22.5,22.5 0 0 1 29,714 V196 A3,3 0 0 1 31.5,193 Z" fill="url(#gbox)"/>
<text transform="translate(63.6 677) rotate(-90)" font-size="37.5" font-weight="bold" fill="#1f1f1f" stroke="#1f1f1f" stroke-width="0.9" textLength="472" lengthAdjust="spacingAndGlyphs">90 - PALMA DI MONTECHIARO</text>
<circle cx="51.8" cy="713.6" r="22.4" fill="url(#ggreen)" stroke="#1d1d1d" stroke-width="2.6"/>
<path d="M1844.8,229 H1885.8 A8,8 0 0 1 1893.8,237 V634 A28.7,28.7 0 0 1 1836.4,634 V237 A8,8 0 0 1 1844.8,229 Z" fill="#e30613"/>
<path d="M1846,235 H1884.5 A3,3 0 0 1 1887.6,238 V634 A22.4,22.4 0 0 1 1842.8,634 V238 A3,3 0 0 1 1846,235 Z" fill="url(#rbox)"/>
<text transform="translate(1878.6 591.8) rotate(-90)" font-size="36.5" font-weight="bold" fill="#1f1f1f" stroke="#1f1f1f" stroke-width="0.9" textLength="344" lengthAdjust="spacingAndGlyphs">556 - CALTANISSETTA</text>
<circle cx="1865.0" cy="634" r="21.6" fill="url(#gred)" stroke="#1d1d1d" stroke-width="2.6"/>
<g transform="translate(51.8 713.6)" fill="#fff" stroke="none"><circle cx="-12.1" cy="7.1" r="5.8" fill="none" stroke="#fff" stroke-width="2.5"/><circle cx="10.7" cy="7.1" r="5.8" fill="none" stroke="#fff" stroke-width="2.5"/><path d="M-12.1,7.1 L-1,7.5 L-5,-2 L7,-2 L10.7,7.1 M-1,7.5 L7,-2" fill="none" stroke="#fff" stroke-width="1.8"/><path d="M-10.5,-7 C-11,-11 -7,-13.8 -1,-13.8 C2.5,-13.8 4.5,-12 5.5,-9.5 L10.5,-4 L12.5,-1.2 L10.5,-0.5 L6.5,-4 L3,-6 C2,-3.5 0,-1 -1.5,0.5 L0.5,7.5 L-2.5,8 L-5,1 C-7.5,0 -10,-3 -10.5,-7 Z"/><circle cx="6.4" cy="-11.9" r="2.7"/></g>
<g transform="translate(1865.0 634.0)" fill="#fff" stroke="none"><circle cx="-10.4" cy="8.6" r="5.4" fill="none" stroke="#fff" stroke-width="2.6"/><circle cx="10.5" cy="8.6" r="5.4" fill="none" stroke="#fff" stroke-width="2.6"/><path d="M-10.4,8.6 L-1,9 L-3,1 L6,-1 L10.5,8.6 M-1,9 L6,-1" fill="none" stroke="#fff" stroke-width="1.8"/><path d="M-4,-21.5 L0,-22 L2.5,-19 L1.5,-14 L-0.5,-9 L5,-7.5 L9,-4 L8.5,-1.5 L4,-3.5 L0,-3 L2,3 L0,9 L-3,8.5 L-4.5,2 L-6,-3 L-5,-9 L-6.5,-14 L-5.5,-18 Z"/><circle cx="-1.8" cy="-19.5" r="2.8"/></g>
</svg></body></html>
